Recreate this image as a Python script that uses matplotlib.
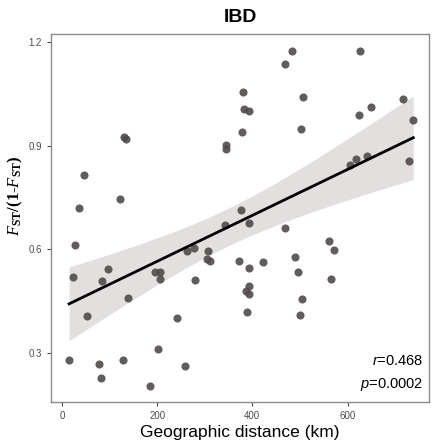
import numpy as np
import matplotlib
matplotlib.use("Agg")
import matplotlib.pyplot as plt

plt.rcParams['font.family'] = ['Liberation Sans', 'DejaVu Sans']
plt.rcParams['mathtext.fontset'] = 'custom'
plt.rcParams['mathtext.rm'] = 'Liberation Serif'
plt.rcParams['mathtext.it'] = 'Liberation Serif:italic'
plt.rcParams['mathtext.bf'] = 'Liberation Serif:bold'
plt.rcParams['mathtext.sf'] = 'Liberation Sans:italic'

# geographic distance (km) and Fst/(1-Fst)
distance_km = [130, 134, 484, 469, 380, 382, 392, 378, 345, 345,
               507, 502, 626, 650, 625, 717, 738, 606, 617, 641,
               729, 561, 572, 46, 36, 123, 27, 97, 24, 85,
               139, 53, 15, 78, 83, 129, 202, 184, 242, 196,
               206, 206, 263, 278, 307, 304, 310, 280, 259, 376,
               342, 392, 469, 373, 393, 422, 490, 496, 392, 386,
               393, 389, 504, 500, 566]
fst_ratio = [0.925, 0.919, 1.174, 1.135, 1.055, 1.007, 1.000, 0.940, 0.902, 0.891,
             1.040, 0.948, 1.174, 1.012, 0.989, 1.035, 0.973, 0.843, 0.861, 0.870,
             0.855, 0.624, 0.597, 0.814, 0.720, 0.745, 0.612, 0.544, 0.521, 0.508,
             0.460, 0.407, 0.279, 0.269, 0.227, 0.280, 0.311, 0.205, 0.402, 0.533,
             0.533, 0.514, 0.594, 0.605, 0.595, 0.571, 0.566, 0.511, 0.263, 0.714,
             0.670, 0.677, 0.662, 0.565, 0.545, 0.564, 0.577, 0.533, 0.494, 0.480,
             0.470, 0.417, 0.455, 0.411, 0.513]
r_text = "0.468"
p_text = "0.0002"

x = np.array(distance_km, dtype=float)
y = np.array(fst_ratio, dtype=float)

# linear fit with 95% confidence band (like geom_smooth(method='lm'))
n = len(x)
slope, intercept = np.polyfit(x, y, 1)
resid = y - (slope * x + intercept)
s_err = np.sqrt(np.sum(resid ** 2) / (n - 2))
t_crit = 1.998
xs = np.linspace(x.min(), x.max(), 200)
ys = slope * xs + intercept
se_fit = s_err * np.sqrt(1.0 / n + (xs - x.mean()) ** 2 / np.sum((x - x.mean()) ** 2))

fig = plt.figure(figsize=(4.32, 4.46), dpi=100)
ax = fig.add_axes([0.118, 0.0987, 0.875, 0.825])

ax.fill_between(xs, ys - t_crit * se_fit, ys + t_crit * se_fit,
                color='#e3dfdf', lw=0, zorder=1)
ax.scatter(x, y, s=34, color='#514b4b', alpha=0.9, lw=0, zorder=2)
ax.plot(xs, ys, color='black', lw=2.0, zorder=3)

ax.set_xlim(-23, 771)
ax.set_ylim(0.158, 1.223)
ax.set_xticks([0, 200, 400, 600])
ax.set_yticks([0.3, 0.6, 0.9, 1.2])
ax.tick_params(labelsize=7, colors='#4d4d4d', length=3, width=0.8)
for sp in ax.spines.values():
    sp.set_color('#8c8c8c')
    sp.set_linewidth(1.0)

ax.set_title('IBD', fontsize=14, fontweight='bold', pad=9)
ax.set_xlabel('Geographic distance (km)', fontsize=12.5, labelpad=3)
ax.set_ylabel(r'$\mathbf{\mathit{F}_{ST}/(1\text{-}\mathit{F}_{ST})}$', fontsize=12)
ax.yaxis.set_label_coords(-0.07, 0.56)

ax.text(0.985, 0.093, r'$\mathsf{r}$=' + r_text, transform=ax.transAxes,
        ha='right', va='bottom', fontsize=10.5)
ax.text(0.985, 0.025, r'$\mathsf{p}$=' + p_text, transform=ax.transAxes,
        ha='right', va='bottom', fontsize=10.5)

fig.savefig('out.png', dpi=100)
